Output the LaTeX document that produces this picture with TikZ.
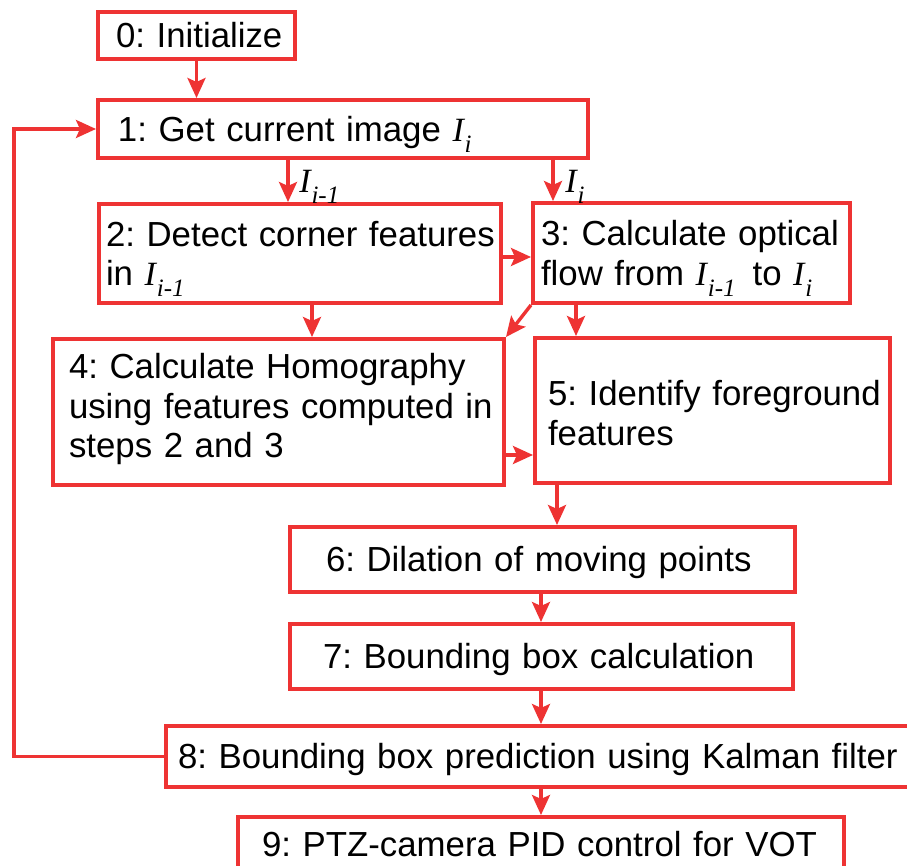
\documentclass[tikz,border=0pt]{standalone}
\usepackage{fontspec}
\setmainfont{Liberation Sans}
\newfontfamily\tms{Liberation Serif}
\usetikzlibrary{arrows.meta}
\definecolor{flowred}{RGB}{238,51,51}
\frenchspacing
% image symbol I with an italic subscript
\newcommand\Iv[1]{{\tms\itshape\fontsize{17}{17}\selectfont I\kern0.4pt\raisebox{-5.5pt}{\fontsize{12.5}{12.5}\selectfont #1}}}
\begin{document}
\begin{tikzpicture}[x=0.5pt,y=-0.5pt,
  box/.style={draw=flowred, line width=2pt, fill=white, align=left,
    font=\fontsize{17.4}{19.75}\selectfont, inner ysep=0pt,
    text height=12.5pt, text depth=0pt},
  arr/.style={draw=flowred, line width=1.7pt,
    -{Stealth[length=10pt,width=9pt,inset=2pt]}},
  lbl/.style={inner sep=0pt, anchor=base west}]
\useasboundingbox (0,0) rectangle (907,866);
\clip (0,0) rectangle (907,866);
\fill[white] (0,0) rectangle (907,866);

% process steps
\node[box, minimum width=98.5pt, minimum height=23.5pt, text width=80.5pt, inner xsep=9pt]
  (b0) at (196.5,35.5) {\mbox{0: Initialize}};
\node[box, minimum width=245pt, minimum height=29pt, text width=225pt, inner xsep=10pt]
  (b1) at (343,129) {\mbox{1: Get current image \Iv{i}}};
\node[box, minimum width=201pt, minimum height=49.5pt, text width=194pt, inner xsep=3.5pt,
  text depth=19.75pt]
  (b2) at (300,253.5) {\mbox{2: Detect corner features}\\\mbox{in \Iv{i-1}}};
\node[box, minimum width=158.5pt, minimum height=50pt, text width=150.5pt, inner xsep=4pt,
  text depth=19.75pt]
  (b3) at (691.5,253) {\mbox{3: Calculate optical}\\\mbox{flow from \Iv{i-1}\hskip8.5pt to \Iv{i}}};
\node[box, minimum width=225.5pt, minimum height=73pt, text width=209.5pt, inner xsep=8pt,
  text depth=45.5pt]
  (b4) at (278.5,412) {\mbox{4: Calculate Homography}\\\mbox{using features computed in}\\\mbox{steps 2 and 3}};
\node[box, minimum width=177.5pt, minimum height=72.5pt, text width=164.5pt, inner xsep=6.5pt,
  text depth=17.25pt]
  (b5) at (712.5,410.5) {\mbox{5: Identify foreground}\\\mbox{features}};
\node[box, minimum width=252.5pt, minimum height=32.5pt, text width=216.5pt, inner xsep=18pt]
  (b6) at (542.5,559.5) {\mbox{6: Dilation of moving points}};
\node[box, minimum width=251.5pt, minimum height=32.5pt, text width=218.5pt, inner xsep=16.5pt]
  (b7) at (541.5,656.5) {\mbox{7: Bounding box calculation}};
\node[box, minimum width=382pt, minimum height=30.5pt, text width=370pt, inner xsep=6pt]
  (b8) at (548,756.5) {\mbox{8: Bounding box prediction using Kalman filter}};
\node[box, minimum width=303pt, minimum height=27.5pt, text width=279pt, inner xsep=12pt]
  (b9) at (541,844.5) {\mbox{9: PTZ-camera PID control for VOT}};

% image labels on the two branches out of step 1
\node[lbl] (lprev) at (299,193) {\Iv{i-1}};
\node[lbl] (lcur) at (565,193) {\Iv{i}};

% connectors
\draw[arr] (b0.south) -- (b0.south |- b1.north);
\draw[arr] (288,0 |- b1.south) -- (288,0 |- b2.north);
\draw[arr] (553,0 |- b1.south) -- (553,0 |- b3.north);
\draw[arr] (b2.east |- 0,257) -- (b3.west |- 0,257);
\draw[arr] (312,0 |- b2.south) -- (312,0 |- b4.north);
\draw[arr] (b3.south west) -- (b4.north east);
\draw[arr] (576,0 |- b3.south) -- (576,0 |- b5.north);
\draw[arr] (b4.east |- 0,455) -- (b5.west |- 0,455);
\draw[arr] (557,0 |- b5.south) -- (557,0 |- b6.north);
\draw[arr] (541,0 |- b6.south) -- (541,0 |- b7.north);
\draw[arr] (541,0 |- b7.south) -- (541,0 |- b8.north);
\draw[arr] (541,0 |- b8.south) -- (541,0 |- b9.north);
% feedback loop from the prediction back to image capture
\draw[arr] (b8.west) -- (b8.west -| 14,0) |- (b1.west);
\end{tikzpicture}
\end{document}
